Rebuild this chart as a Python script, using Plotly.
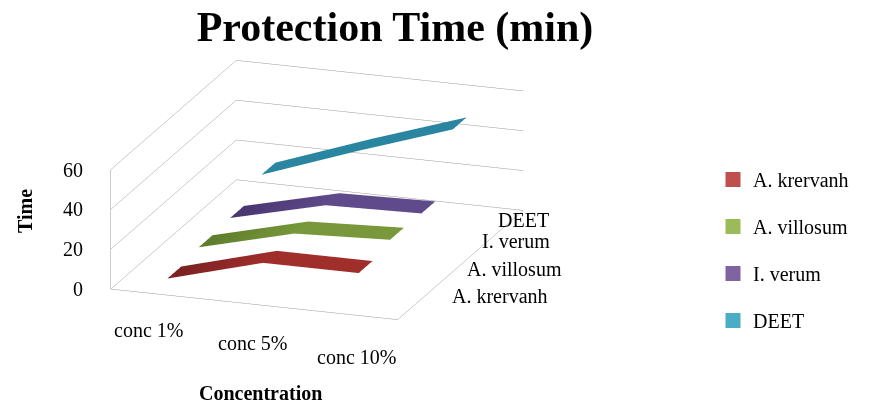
import plotly.graph_objects as go

# Categories and series
concentrations = ["conc 1%", "conc 5%", "conc 10%"]
species = ["A. krervanh", "A. villosum", "I. verum", "DEET"]

# Protection time (min) per concentration
krervanh = [4, 17, 17]
villosum = [6, 18, 20]
verum = [7, 18.5, 19.5]
deet = [15, 32, 48]
series_values = [krervanh, villosum, verum, deet]

time_ticks = [0, 20, 40, 60]

# ribbon shading: darker tone at the first category, main tone elsewhere
ribbon_dark = ["#7a2222", "#5e7c2c", "#493670", "#2a86a0"]
ribbon_main = ["#a02e2b", "#78983b", "#5f4a8b", "#2a86a0"]
legend_colors = ["#c0504d", "#9bbb59", "#8064a2", "#4bacc6"]

FONT = "Liberation Serif"
RIBBON_HALF_DEPTH = 0.22
GRID = "#999999"

x_idx = list(range(len(concentrations)))
y_idx = list(range(len(species)))
x_lo, x_hi = -0.5, len(concentrations) - 0.5
y_lo, y_hi = -0.5, len(species) - 0.5

fig = go.Figure()

shade_row = [0] + [1] * (len(x_idx) - 1)
for i, (name, vals) in enumerate(zip(species, series_values)):
    fig.add_trace(go.Surface(
        x=[x_idx, x_idx],
        y=[[i - RIBBON_HALF_DEPTH] * len(x_idx), [i + RIBBON_HALF_DEPTH] * len(x_idx)],
        z=[vals, vals],
        surfacecolor=[shade_row, shade_row],
        cmin=0, cmax=1,
        colorscale=[[0, ribbon_dark[i]], [1, ribbon_main[i]]],
        showscale=False,
        lighting=dict(ambient=1.0, diffuse=0.0, specular=0.0, fresnel=0.0),
        hoverinfo="skip",
        legendgroup=name,
        showlegend=False,
    ))
    # legend swatch
    fig.add_trace(go.Scatter3d(
        x=[None], y=[None], z=[None],
        mode="markers",
        marker=dict(symbol="square", size=15, color=legend_colors[i]),
        name=name,
        legendgroup=name,
        showlegend=True,
    ))

axis_common = dict(
    showbackground=False,
    showspikes=False,
    zeroline=False,
    showline=True,
    linecolor=GRID,
    linewidth=1,
    showticklabels=False,
    ticks="",
    title=dict(text=""),
)

label_font = dict(family=FONT, size=20, color="black")
scene_labels = []
# category labels along the front floor edge
for i, t in enumerate(concentrations):
    scene_labels.append(dict(x=i, y=y_lo, z=0, text=t, showarrow=False,
                             xanchor="center", yanchor="middle",
                             xshift=-10 + 8 * i, yshift=-36 - 3 * i,
                             font=label_font))
# series labels along the right floor edge, stepping in toward the back
for i, t in enumerate(species):
    scene_labels.append(dict(x=x_hi, y=i, z=0, text=t, showarrow=False,
                             xanchor="left", yanchor="middle",
                             xshift=36 - 16 * i, yshift=10 - (2 if i == 3 else 0) * 3,
                             font=label_font))
# value labels on the front vertical edge
for v in time_ticks:
    scene_labels.append(dict(x=x_lo, y=y_lo, z=v, text=str(v), showarrow=False,
                             xanchor="right", yanchor="middle",
                             xshift=-26, yshift=0, font=label_font))

fig.update_layout(
    width=875,
    height=406,
    margin=dict(l=0, r=0, t=0, b=0),
    paper_bgcolor="white",
    font=dict(family=FONT, color="black"),
    title=dict(
        text="<b>Protection Time (min)</b>",
        x=395 / 875, xanchor="center",
        y=1 - 26 / 406, yanchor="middle",
        font=dict(family=FONT, size=42, color="black"),
    ),
    scene=dict(
        domain=dict(x=[0.0, 0.725], y=[0.064, 1.0]),
        xaxis=dict(axis_common, range=[x_lo, x_hi], tickvals=x_idx, showgrid=False),
        yaxis=dict(axis_common, range=[y_lo, y_hi], tickvals=y_idx, showgrid=False),
        zaxis=dict(axis_common, range=[0, 60], tickvals=time_ticks,
                   showgrid=True, gridcolor=GRID, gridwidth=1),
        aspectmode="manual",
        aspectratio=dict(x=1.6, y=2.0, z=0.66),
        camera=dict(
            eye=dict(x=0.63, y=-1.8, z=0.61),
            center=dict(x=0, y=0, z=0),
            up=dict(x=0, y=0, z=1),
            projection=dict(type="orthographic"),
        ),
        dragmode=False,
        annotations=scene_labels,
    ),
    legend=dict(
        x=713 / 875, xanchor="left",
        y=1 - 250 / 406, yanchor="middle",
        font=dict(family=FONT, size=20, color="black"),
        tracegroupgap=18,
        bgcolor="rgba(0,0,0,0)",
    ),
    annotations=[
        dict(text="<b>Time</b>", x=25 / 875, y=1 - 211 / 406,
             xref="paper", yref="paper", xanchor="center", yanchor="middle",
             showarrow=False, textangle=-90,
             font=dict(family=FONT, size=20, color="black")),
        dict(text="<b>Concentration</b>", x=260 / 875, y=1 - 393 / 406,
             xref="paper", yref="paper", xanchor="center", yanchor="middle",
             showarrow=False,
             font=dict(family=FONT, size=20, color="black")),
    ],
)

fig.write_html("out.html")
